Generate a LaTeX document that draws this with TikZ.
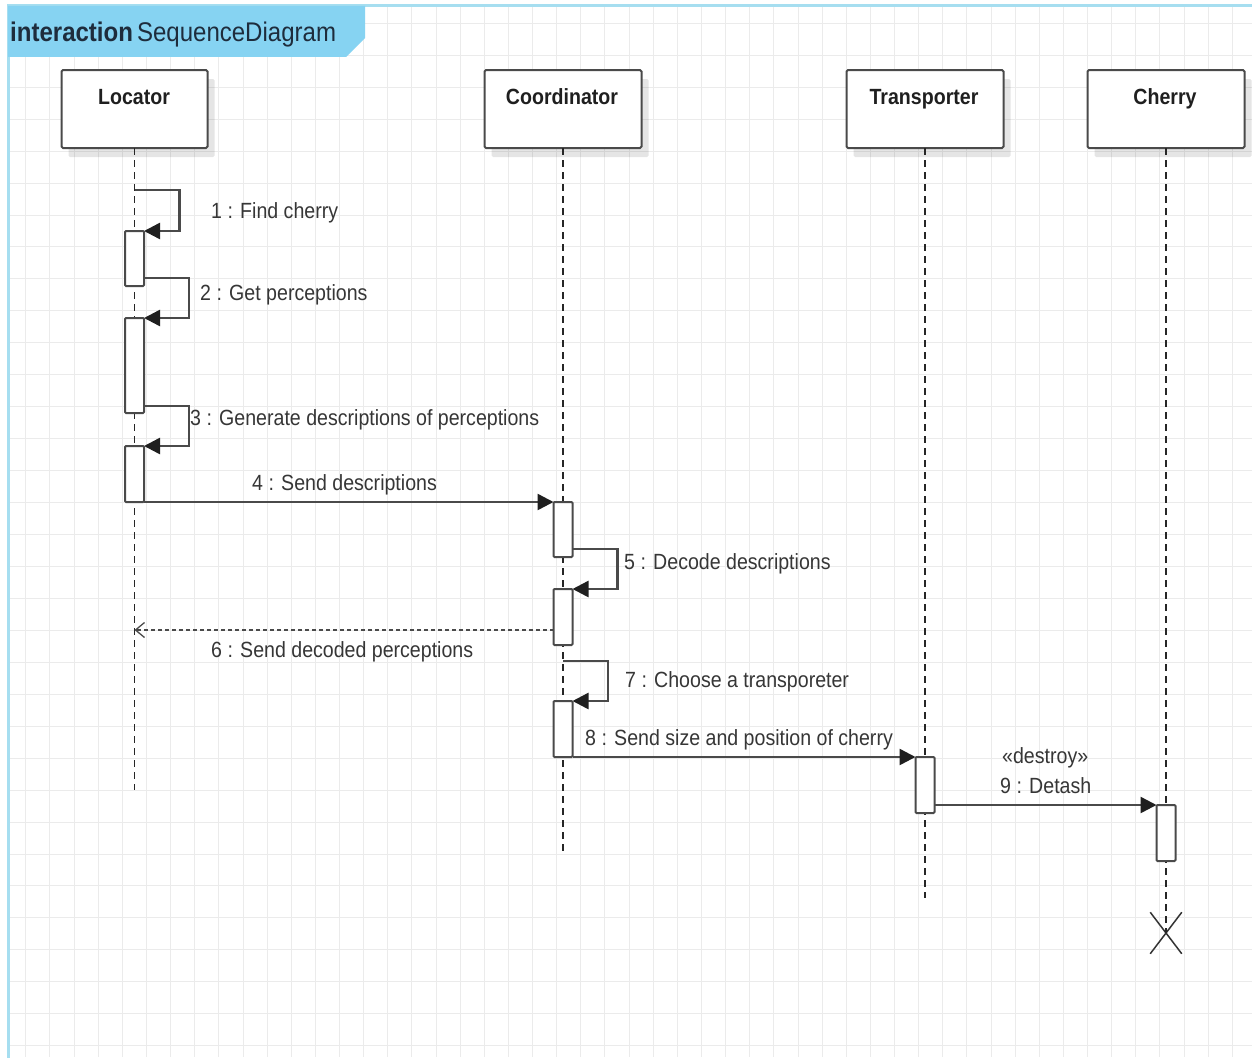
\documentclass[tikz,border=0pt]{standalone}
\usepackage{fontspec}
\setmainfont{Liberation Sans}[FakeStretch=0.89]
\usetikzlibrary{arrows.meta,shadows,shapes.misc}

\definecolor{framebg}{HTML}{86D3F2}
\definecolor{frameline}{HTML}{A6DEF0}
\definecolor{gridline}{HTML}{EBEBEB}
\definecolor{ink}{HTML}{4A4A4A}
\definecolor{txt}{HTML}{363636}
\definecolor{titleink}{HTML}{1E2C3C}

\begin{document}
\begin{tikzpicture}[x=1pt,y=-1pt,
  lifebox/.style={draw=ink, line width=2pt, fill=white, rounded corners=1.5pt,
    minimum width=157pt, minimum height=78pt, inner sep=0pt, outer sep=0pt,
    drop shadow={shadow xshift=7pt, shadow yshift=-9pt, opacity=0.10, fill=black}},
  boxtext/.style={anchor=base, inner sep=0pt, text=black!88,
    font=\fontsize{22}{26}\selectfont\bfseries},
  msgtext/.style={anchor=base west, inner sep=0pt, text=txt,
    font=\fontsize{22}{26}\selectfont},
  lifeline/.style={draw=black!85, line width=1.5pt, dash pattern=on 7pt off 5pt},
  actbar/.style={draw=ink, line width=2pt, fill=white, rounded corners=1pt,
    minimum width=19pt, inner sep=0pt, outer sep=0pt, anchor=north},
  msg/.style={draw=ink, line width=2.5pt,
    -{Triangle[length=16pt,width=16pt,color=black!88]}},
  reply/.style={draw=ink, line width=2pt, dash pattern=on 4pt off 3pt,
    -{Straight Barb[length=9pt,width=15pt,line width=1.3pt]}},
  destroy/.style={draw=black!80, line width=1.5pt, cross out,
    minimum width=30pt, minimum height=40pt, inner sep=0pt}
]
\useasboundingbox (0,0) rectangle (1252,1057);
\fill[white] (0,0) rectangle (1252,1057);

% background grid
\begin{scope}
  \clip (8,6) rectangle (1252,1057);
  \foreach \k in {1,...,51}
    \draw[gridline, line width=1pt] ({1.7+\k*24.13},6) -- ({1.7+\k*24.13},1057);
  \foreach \k in {0,...,32}
    \draw[gridline, line width=1pt] (8,{23.3+\k*31.95}) -- (1252,{23.3+\k*31.95});
\end{scope}

% interaction frame and its name tab
\draw[frameline, line width=3pt] (8,1060) -- (8,6) -- (1255,6);
\fill[framebg] (8,6) -- (365,6) -- (365,38) -- (346,57) -- (8,57) -- cycle;
\node[anchor=base west, inner sep=0pt, text=titleink,
  font=\fontsize{27}{30}\selectfont] (title) at (10,42)
  {\textbf{interaction}\hspace{4pt}SequenceDiagram};

% participants
\node[lifebox, minimum width=146pt] (L) at (134.5,109) {};
\node[lifebox] (C) at (563,109) {};
\node[lifebox] (T) at (925,109) {};
\node[lifebox] (Ch) at (1166,109) {};
\node[boxtext] (Lt) at (134,104) {Locator};
\node[boxtext] (Ct) at (562,104) {Coordinator};
\node[boxtext] (Tt) at (924,104) {Transporter};
\node[boxtext] (Cht) at (1165,104) {Cherry};

% lifeline ends
\coordinate (Lend) at (134.5,790);
\coordinate (Cend) at (563,852);
\coordinate (Tend) at (925,898);
\node[destroy] (X) at (1166,933) {};

\draw[lifeline] (L.south) -- (Lend);
\draw[lifeline] (C.south) -- (Cend);
\draw[lifeline] (T.south) -- (Tend);
\draw[lifeline] (Ch.south) -- (X.center);

% activation bars
\node[actbar, minimum height=55pt] (b1) at (134.5,231) {};
\node[actbar, minimum height=95pt] (b2) at (134.5,318) {};
\node[actbar, minimum height=56pt] (b3) at (134.5,446) {};
\node[actbar, minimum height=55pt] (bA) at (563,502) {};
\node[actbar, minimum height=56pt] (bB) at (563,589) {};
\node[actbar, minimum height=56pt] (bC) at (563,701) {};
\node[actbar, minimum height=56pt] (bT) at (925,757) {};
\node[actbar, minimum height=56pt] (bCh) at (1166,805) {};

% self calls
\coordinate (s1) at (134.5,190);
\coordinate (s2) at (144,278);
\coordinate (s3) at (144,406);
\coordinate (s5) at (572.5,549);
\coordinate (s7) at (563,661);
\draw[msg] (s1) -- ++(45,0) |- (b1.north east);
\draw[msg] (s2) -- ++(45,0) |- (b2.north east);
\draw[msg] (s3) -- ++(45,0) |- (b3.north east);
\draw[msg] (s5) -- ++(45,0) |- (bB.north east);
\draw[msg] (s7) -- ++(45,0) |- (bC.north east);

% calls between participants
\draw[msg] (b3.south east) -- (bA.north west);
\coordinate (m6) at (0,630);
\draw[reply] (bB.west |- m6) -- (L.south |- m6);
\draw[msg] (bC.south east) -- (bT.north west);
\draw[msg] (bT.east |- bCh.north) -- (bCh.north west);

% message labels
\node[msgtext] (t1) at (211,218) {1 : Find cherry};
\node[msgtext] (t2) at (200,300) {2 : Get perceptions};
\node[msgtext] (t3) at (190,425) {3 : Generate descriptions of perceptions};
\node[msgtext] (t4) at (252,490) {4 : Send descriptions};
\node[msgtext] (t5) at (624,569) {5 : Decode descriptions};
\node[msgtext] (t6) at (211,657) {6 : Send decoded perceptions};
\node[msgtext] (t7) at (625,687) {7 : Choose a transporeter};
\node[msgtext] (t8) at (585,745) {8 : Send size and position of cherry};
\node[msgtext] (t9s) at (1002,763) {«destroy»};
\node[msgtext] (t9) at (1000,793) {9 : Detash};
\end{tikzpicture}
\end{document}
